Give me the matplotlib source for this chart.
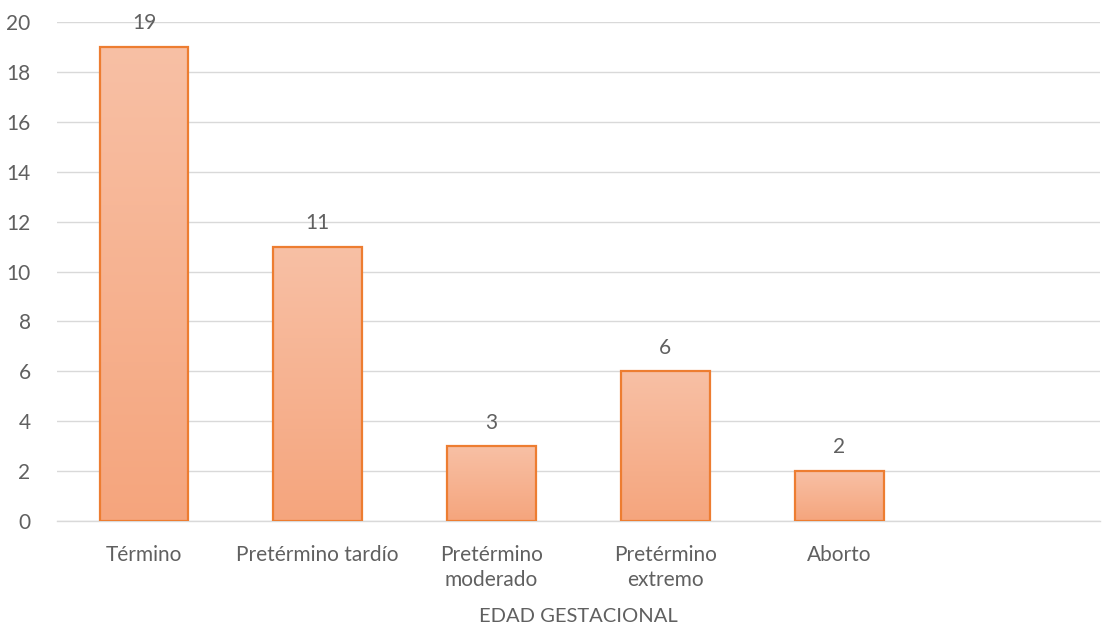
import numpy as np
import matplotlib.pyplot as plt
from matplotlib.colors import LinearSegmentedColormap

categories = ["Término", "Pretérmino tardío", "Pretérmino\nmoderado", "Pretérmino\nextremo", "Aborto", ""]
values = [19, 11, 3, 6, 2, None]
x_title = "EDAD GESTACIONAL"
y_ticks = list(range(0, 21, 2))

plt.rcParams['font.family'] = ['Lato', 'DejaVu Sans']
text_color = "#606060"
grid_color = "#D9D9D9"
edge_color = "#ED7D31"
fs = 15

fig = plt.figure(figsize=(11.03, 6.39), dpi=100)
ax = fig.add_axes([57 / 1103, 118 / 639, 1043 / 1103, 499 / 639])

n = len(categories)
xs = np.arange(n)
ax.set_xlim(-0.5, n - 0.5)
ax.set_ylim(0, 20)

grad = LinearSegmentedColormap.from_list("peach", ["#F5A57D", "#F8C0A5"])
gimg = np.linspace(0, 1, 256).reshape(-1, 1)

bw = 0.51
for x, v in zip(xs, values):
    if v is None:
        continue
    bar = ax.bar(x, v, width=bw, facecolor="none", edgecolor=edge_color,
                 linewidth=1.6, zorder=4)[0]
    im = ax.imshow(gimg, cmap=grad, origin="lower", aspect="auto",
                   extent=(x - bw / 2, x + bw / 2, 0, v), zorder=3)
    im.set_clip_path(bar)
    ax.annotate(str(v), (x, v), xytext=(0, 17), textcoords="offset points",
                ha="center", va="center", fontsize=fs, color=text_color)

ax.set_yticks(y_ticks)
ax.set_xticks(xs)
ax.set_xticklabels(categories, fontsize=fs, color=text_color, linespacing=1.35)
ax.tick_params(axis="both", length=0, labelsize=fs, labelcolor=text_color)
ax.tick_params(axis="x", pad=17)
ax.tick_params(axis="y", pad=19)

ax.grid(axis="y", color=grid_color, linewidth=1)
ax.set_axisbelow(True)
for s in ["top", "right", "left"]:
    ax.spines[s].set_visible(False)
ax.spines["bottom"].set_color(grid_color)
ax.spines["bottom"].set_linewidth(1)

fig.text(578 / 1103, 1 - 617 / 639, x_title, ha="center", va="center",
         fontsize=fs - 0.5, color=text_color)

fig.savefig("out.png", dpi=100)
